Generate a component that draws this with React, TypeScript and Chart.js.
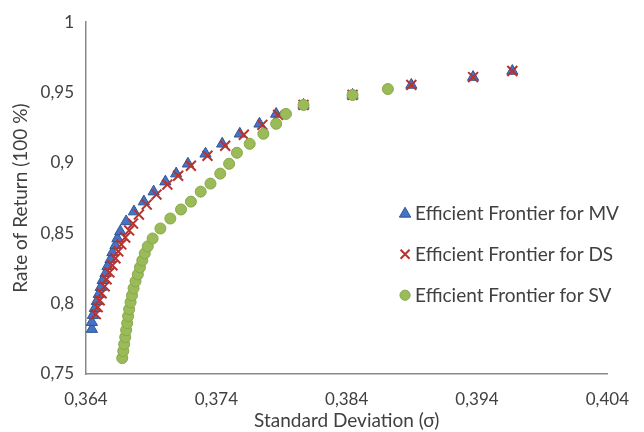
import React, { useEffect, useRef } from "react";
import { Chart, registerables } from "chart.js";

Chart.register(...registerables);

const seriesLabels = [
  "Efficient Frontier for MV",
  "Efficient Frontier for DS",
  "Efficient Frontier for SV",
];

const mvStd = [0.36445, 0.36445, 0.36453, 0.36468, 0.36483, 0.36498, 0.36513, 0.36528, 0.3655, 0.36565, 0.36588, 0.36603, 0.36626, 0.36641, 0.36663, 0.36708, 0.36768, 0.36844, 0.36919, 0.37009, 0.37092, 0.37182, 0.37317, 0.37445, 0.3758, 0.37731, 0.37859, 0.38069, 0.38445, 0.38896, 0.3937, 0.39671];
const mvRet = [0.7819, 0.7868, 0.7918, 0.7967, 0.8017, 0.8067, 0.8116, 0.8166, 0.8215, 0.8265, 0.8314, 0.8364, 0.8414, 0.8463, 0.8513, 0.8584, 0.8654, 0.8725, 0.8796, 0.8867, 0.8924, 0.8994, 0.9065, 0.9136, 0.9207, 0.9278, 0.9348, 0.9412, 0.9483, 0.9554, 0.961, 0.9653];

const dsStd = [0.36475, 0.3649, 0.36505, 0.3652, 0.36543, 0.36558, 0.3658, 0.36603, 0.36626, 0.36648, 0.36671, 0.36701, 0.36731, 0.36761, 0.36806, 0.36866, 0.36941, 0.37024, 0.37107, 0.37205, 0.37332, 0.37468, 0.37611, 0.37753, 0.37874, 0.38069, 0.38445, 0.38896, 0.3937, 0.39671];
const dsRet = [0.7925, 0.7975, 0.8024, 0.8074, 0.8123, 0.8173, 0.8222, 0.8272, 0.8322, 0.8371, 0.8421, 0.847, 0.852, 0.8569, 0.8633, 0.8704, 0.8775, 0.8846, 0.8909, 0.898, 0.9051, 0.9122, 0.92, 0.9271, 0.9341, 0.9412, 0.9483, 0.9554, 0.961, 0.9653];

const svStd = [0.36678, 0.36686, 0.36693, 0.36701, 0.36708, 0.36716, 0.36723, 0.36731, 0.36742, 0.36753, 0.36765, 0.3678, 0.36798, 0.36814, 0.36832, 0.36851, 0.36874, 0.36911, 0.36971, 0.37047, 0.37129, 0.37205, 0.3728, 0.37355, 0.3743, 0.37498, 0.37558, 0.37656, 0.37761, 0.37859, 0.37934, 0.38069, 0.38445, 0.38716];
const svRet = [0.7613, 0.7663, 0.7712, 0.7762, 0.7812, 0.7861, 0.7911, 0.796, 0.801, 0.8059, 0.8109, 0.8159, 0.8208, 0.8258, 0.8307, 0.8357, 0.8407, 0.8463, 0.8534, 0.8605, 0.8669, 0.8725, 0.8796, 0.8853, 0.8924, 0.8994, 0.9072, 0.9136, 0.9207, 0.9278, 0.9348, 0.9412, 0.9483, 0.9525];

const xTicks = [0.364, 0.374, 0.384, 0.394, 0.404];
const yTicks = [0.75, 0.8, 0.85, 0.9, 0.95, 1];

const xTitle = "Standard Deviation (σ)";
const yTitle = "Rate of Return (100 %)";

const FONT = "Lato, 'Open Sans', sans-serif";
const TEXT = "#404040";
const AXIS = "#8a8a8a";

const BLUE = "#4472C4";
const BLUE_BORDER = "#2F5597";
const RED = "#B8322E";
const GREEN = "#9BBB59";
const GREEN_BORDER = "#86A84A";

function pts(xs: number[], ys: number[]) {
  return xs.map((x, i) => ({ x, y: ys[i] }));
}

function drawMarker(ctx: CanvasRenderingContext2D, style: string, x: number, y: number, r: number, fill: string, stroke: string) {
  ctx.save();
  ctx.fillStyle = fill;
  ctx.strokeStyle = stroke;
  ctx.beginPath();
  if (style === "triangle") {
    ctx.moveTo(x, y - r);
    ctx.lineTo(x + r * 0.95, y + r * 0.65);
    ctx.lineTo(x - r * 0.95, y + r * 0.65);
    ctx.closePath();
    ctx.lineWidth = 1;
    ctx.fill();
    ctx.stroke();
  } else if (style === "crossRot") {
    const d = r * 0.75;
    ctx.moveTo(x - d, y - d);
    ctx.lineTo(x + d, y + d);
    ctx.moveTo(x + d, y - d);
    ctx.lineTo(x - d, y + d);
    ctx.lineWidth = 2;
    ctx.stroke();
  } else {
    ctx.arc(x, y, r * 0.85, 0, Math.PI * 2);
    ctx.lineWidth = 1;
    ctx.fill();
    ctx.stroke();
  }
  ctx.restore();
}

const insideLegend = {
  id: "insideLegend",
  afterDraw(chart: any) {
    const { ctx, chartArea } = chart;
    const x0 = chartArea.left + (chartArea.right - chartArea.left) * 0.612;
    const y0 = chartArea.top + (chartArea.bottom - chartArea.top) * 0.543;
    const gap = 41;
    ctx.save();
    ctx.font = `19px ${FONT}`;
    ctx.fillStyle = TEXT;
    ctx.textBaseline = "middle";
    ctx.textAlign = "left";
    chart.data.datasets.forEach((ds: any, i: number) => {
      const y = y0 + i * gap;
      drawMarker(ctx, ds.pointStyle, x0, y, 6, ds.backgroundColor, ds.borderColor);
      ctx.fillStyle = TEXT;
      ctx.fillText(ds.label, x0 + 10, y + 1);
    });
    ctx.restore();
  },
};

export default function App() {
  const ref = useRef<HTMLCanvasElement | null>(null);

  useEffect(() => {
    if (!ref.current) return;
    const chart = new Chart(ref.current, {
      type: "scatter",
      data: {
        datasets: [
          {
            label: seriesLabels[0],
            data: pts(mvStd, mvRet),
            pointStyle: "triangle",
            pointRadius: 6.5,
            backgroundColor: BLUE,
            borderColor: BLUE_BORDER,
            borderWidth: 1,
            order: 2,
          },
          {
            label: seriesLabels[1],
            data: pts(dsStd, dsRet),
            pointStyle: "crossRot",
            pointRadius: 7,
            backgroundColor: RED,
            borderColor: RED,
            borderWidth: 2,
            order: 1,
          },
          {
            label: seriesLabels[2],
            data: pts(svStd, svRet),
            pointStyle: "circle",
            pointRadius: 5.5,
            backgroundColor: GREEN,
            borderColor: GREEN_BORDER,
            borderWidth: 1,
            order: 0,
          },
        ],
      },
      options: {
        responsive: false,
        animation: false,
        layout: { padding: { top: 15, right: 22, left: 0, bottom: 0 } },
        plugins: {
          legend: { display: false },
          tooltip: { enabled: false },
        },
        scales: {
          x: {
            type: "linear",
            min: xTicks[0],
            max: xTicks[xTicks.length - 1],
            afterBuildTicks: (scale: any) => {
              scale.ticks = xTicks.map((v) => ({ value: v }));
            },
            afterFit: (scale: any) => {
              scale.height = 58;
            },
            grid: { display: false, drawTicks: false },
            border: { display: true, color: AXIS, width: 1.5 },
            ticks: {
              padding: 15,
              color: TEXT,
              font: { family: FONT, size: 17 },
              maxRotation: 0,
              autoSkip: false,
              callback: (v: any) => Number(v).toFixed(3).replace(".", ","),
            },
            title: {
              display: true,
              text: xTitle,
              color: TEXT,
              font: { family: FONT, size: 19 },
              padding: { top: 0, bottom: 0 },
            },
          },
          y: {
            type: "linear",
            min: yTicks[0],
            max: yTicks[yTicks.length - 1],
            afterBuildTicks: (scale: any) => {
              scale.ticks = yTicks.map((v) => ({ value: v }));
            },
            afterFit: (scale: any) => {
              scale.width = 86;
            },
            grid: { display: false, drawTicks: false },
            border: { display: true, color: AXIS, width: 1.5 },
            ticks: {
              padding: 12,
              color: TEXT,
              font: { family: FONT, size: 17 },
              autoSkip: false,
              callback: (v: any) => String(Number(Number(v).toFixed(2))).replace(".", ","),
            },
            title: {
              display: true,
              text: yTitle,
              color: TEXT,
              font: { family: FONT, size: 19 },
              padding: { top: 9, bottom: 0 },
            },
          },
        },
      },
      plugins: [insideLegend],
    });
    return () => chart.destroy();
  }, []);

  return (
    <div style={{ position: "fixed", left: 0, top: 0, width: 644, height: 432, background: "#fff" }}>
      <canvas ref={ref} width={644} height={432} style={{ display: "block" }} />
    </div>
  );
}
